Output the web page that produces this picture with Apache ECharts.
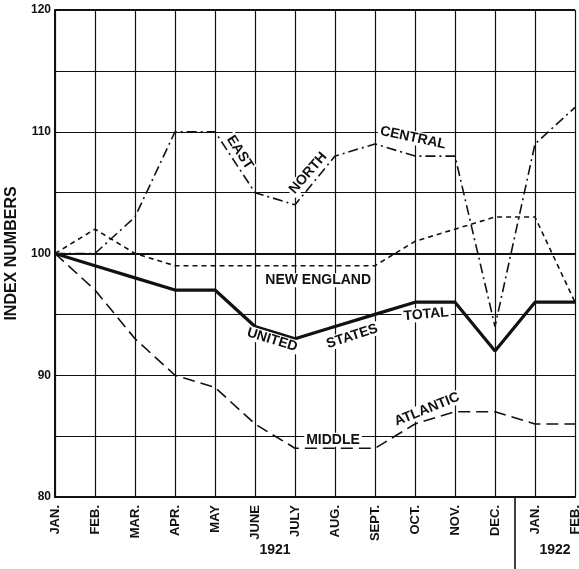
<!DOCTYPE html>
<html><head><meta charset="utf-8">
<script src="https://cdn.jsdelivr.net/npm/echarts@6/dist/echarts.min.js"></script>
<style>html,body{margin:0;padding:0;background:#fff}#c{width:579px;height:569px}</style>
</head><body><div id="c"></div>
<script>
const months = ['JAN.','FEB.','MAR.','APR.','MAY','JUNE','JULY','AUG.','SEPT.','OCT.','NOV.','DEC.','JAN.','FEB.'];
const eastNorthCentral = [100,100,103,110,110,105,104,108,109,108,108,94,109,112];
const newEngland = [100,102,100,99,99,99,99,99,99,101,102,103,103,96];
const usTotal = [100,99,98,97,97,94,93,94,95,96,96,92,96,96];
const middleAtlantic = [100,97,93,90,89,86,84,84,84,86,87,87,86,86];
const yTickLabels = [80,90,100,110,120];
const years = [{label:'1921', from:0, to:11},{label:'1922', from:12, to:13}];
const lineLabels = [
  {text:'EAST', x:4.62, y:108.3, rot:-57},
  {text:'NORTH', x:6.33, y:106.6, rot:49},
  {text:'CENTRAL', x:8.95, y:109.5, rot:-12},
  {text:'NEW ENGLAND', x:6.58, y:97.8, rot:0},
  {text:'UNITED', x:5.43, y:92.9, rot:-17},
  {text:'STATES', x:7.43, y:93.2, rot:18},
  {text:'TOTAL', x:9.28, y:95.0, rot:5},
  {text:'MIDDLE', x:6.95, y:84.7, rot:0},
  {text:'ATLANTIC', x:9.3, y:87.2, rot:22}
];
const INK = '#111';
const FONT = '"Liberation Sans", Arial, sans-serif';
const chart = echarts.init(document.getElementById('c'));
const cats = months.map((m,i)=>m+'|'+i);
function lineSeries(name, data, width, type){
  return {name, type:'line', data, symbol:'none', silent:true, animation:false,
    lineStyle:{color:INK, width, type}, z:3};
}
const usSeries = lineSeries('United States Total', usTotal, 3.2, 'solid');
usSeries.markLine = {silent:true, symbol:'none', label:{show:false}, animation:false,
  lineStyle:{color:INK, width:2.2, type:'solid'}, data:[{yAxis:100}]};
chart.setOption({
  backgroundColor:'#fff',
  animation:false,
  grid:{left:55, right:4, top:10, bottom:72, show:false, containLabel:false, outerBoundsMode:'none'},
  xAxis:{type:'category', data:cats, boundaryGap:false,
    axisLine:{show:true, lineStyle:{color:INK, width:2}},
    axisTick:{show:false},
    splitLine:{show:true, lineStyle:{color:INK, width:1.2}},
    axisLabel:{rotate:90, margin:8, color:INK, fontWeight:'bold', fontSize:13, fontFamily:FONT,
      interval:0, formatter:v=>v.split('|')[0]}
  },
  yAxis:{type:'value', min:80, max:120, interval:5,
    name:'INDEX NUMBERS', nameLocation:'middle', nameRotate:90, nameGap:34,
    nameTextStyle:{color:INK, fontWeight:'bold', fontSize:16, fontFamily:FONT},
    axisLine:{show:true, lineStyle:{color:INK, width:2}},
    axisTick:{show:false},
    splitLine:{show:true, lineStyle:{color:INK, width:1.2}},
    axisLabel:{color:INK, fontWeight:'bold', fontSize:12, fontFamily:FONT, margin:4,
      formatter:v=>yTickLabels.indexOf(v)>=0?String(v):''}
  },
  series:[
    lineSeries('East North Central', eastNorthCentral, 1.6, [10,4,2,4]),
    lineSeries('New England', newEngland, 1.6, [5,4]),
    usSeries,
    lineSeries('Middle Atlantic', middleAtlantic, 1.6, [12,6])
  ]
});
function px(i, v){
  const a = chart.convertToPixel({gridIndex:0}, [0, v]);
  const b = chart.convertToPixel({gridIndex:0}, [1, v]);
  return [a[0] + i*(b[0]-a[0]), a[1]];
}
const g = [];
const tl = px(0,120), tr = px(months.length-1,120);
g.push({type:'line', shape:{x1:tl[0], y1:tl[1], x2:tr[0], y2:tr[1]}, style:{stroke:INK, lineWidth:2}, z:5});
lineLabels.forEach(l=>{
  const p = px(l.x, l.y);
  g.push({type:'text', x:p[0], y:p[1], rotation:l.rot*Math.PI/180, z:6,
    style:{text:l.text, fill:INK, font:'bold 14px '+FONT, align:'center', verticalAlign:'middle',
      backgroundColor:'#fff', padding:[0,2]}});
});
const bottom = px(0,80)[1];
years.forEach(y=>{
  const c = (px(y.from,80)[0] + px(y.to,80)[0]) / 2;
  g.push({type:'text', x:c, y:bottom+53, z:6,
    style:{text:y.label, fill:INK, font:'bold 14px '+FONT, align:'center', verticalAlign:'middle'}});
});
const sepX = px(11.5, 80)[0];
g.push({type:'line', shape:{x1:sepX, y1:bottom, x2:sepX, y2:569}, style:{stroke:INK, lineWidth:1.6}, z:5});
chart.setOption({graphic:g});
</script></body></html>
